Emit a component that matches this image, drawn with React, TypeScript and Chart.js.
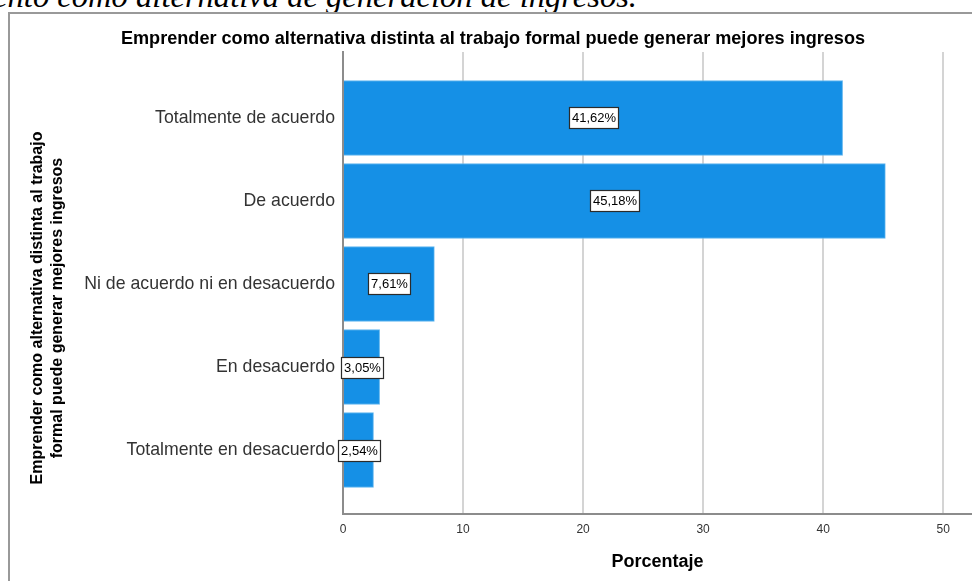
import React, { useEffect, useRef } from 'react';
import { Chart, registerables } from 'chart.js';

Chart.register(...registerables);

const categories = [
  'Totalmente de acuerdo',
  'De acuerdo',
  'Ni de acuerdo ni en desacuerdo',
  'En desacuerdo',
  'Totalmente en desacuerdo',
];
const percentages = [41.62, 45.18, 7.61, 3.05, 2.54];
const xTickValues = [0, 10, 20, 30, 40, 50];
const chartTitle = 'Emprender como alternativa distinta al trabajo formal puede generar mejores ingresos';
const yTitleLines = ['Emprender como alternativa distinta al trabajo', 'formal puede generar mejores ingresos'];
const xTitle = 'Porcentaje';
const captionText = 'ento como alternativa de generación de ingresos.';

const FONT = '"Liberation Sans", Arial, sans-serif';

const formatPct = (v: number) => v.toFixed(2).replace('.', ',') + '%';

const decorPlugin = {
  id: 'decor',
  afterDatasetsDraw(chart: any) {
    const ctx = chart.ctx as CanvasRenderingContext2D;
    const meta = chart.getDatasetMeta(0);
    ctx.save();
    ctx.font = `13px ${FONT}`;
    meta.data.forEach((bar: any, i: number) => {
      const { x, y, base } = bar.getProps(['x', 'y', 'base'], true);
      const cx = (x + base) / 2;
      const txt = formatPct(percentages[i]);
      const w = Math.round(ctx.measureText(txt).width + 5);
      const h = 21;
      const left = Math.round(cx - w / 2);
      const top = Math.round(y - h / 2);
      ctx.fillStyle = '#ffffff';
      ctx.fillRect(left, top, w, h);
      ctx.strokeStyle = '#2b2b2b';
      ctx.lineWidth = 1.2;
      ctx.strokeRect(left + 0.5, top + 0.5, w, h);
      ctx.fillStyle = '#000000';
      ctx.textAlign = 'center';
      ctx.textBaseline = 'middle';
      ctx.fillText(txt, left + w / 2 + 0.5, top + h / 2 + 1);
    });
    ctx.restore();
  },
  afterDraw(chart: any) {
    const ctx = chart.ctx as CanvasRenderingContext2D;
    ctx.save();
    ctx.fillStyle = '#000000';
    ctx.textAlign = 'center';
    ctx.textBaseline = 'middle';
    ctx.font = `bold 18.1px ${FONT}`;
    ctx.fillText(chartTitle, 493, 39);
    ctx.font = `bold 16px ${FONT}`;
    const xs = [38, 58];
    yTitleLines.forEach((line, i) => {
      ctx.save();
      ctx.translate(xs[i], 308);
      ctx.rotate(-Math.PI / 2);
      ctx.fillText(line, 0, 0);
      ctx.restore();
    });
    ctx.restore();
  },
};

function BarChart() {
  const ref = useRef<HTMLCanvasElement | null>(null);
  useEffect(() => {
    if (!ref.current) return;
    const chart = new Chart(ref.current, {
      type: 'bar',
      data: {
        datasets: [
          {
            data: percentages.map((v, i) => ({ x: v, y: i })) as any,
            backgroundColor: '#1590e6',
            borderColor: '#62b6ef',
            borderWidth: 1,
            barThickness: 75,
          },
        ],
      },
      options: {
        indexAxis: 'y',
        animation: false,
        responsive: false,
        maintainAspectRatio: false,
        layout: { padding: { top: 52, left: 0, right: 0, bottom: 0 } },
        plugins: {
          legend: { display: false },
          tooltip: { enabled: false },
          title: { display: false },
        },
        scales: {
          x: {
            type: 'linear',
            position: 'bottom',
            min: 0,
            max: 52.4,
            offset: false,
            afterBuildTicks: (s: any) => {
              s.ticks = xTickValues.map((v) => ({ value: v }));
            },
            afterFit: (s: any) => {
              s.height = 67;
            },
            grid: { color: '#d4d4d4', lineWidth: 2, drawTicks: false },
            border: { display: true, color: '#8c8c8c', width: 2 },
            ticks: {
              padding: 8,
              color: '#333333',
              font: { family: FONT, size: 12 },
              callback: (v: any) => String(v),
            },
            title: {
              display: true,
              text: xTitle,
              color: '#000000',
              font: { family: FONT, size: 18, weight: 'bold' },
              padding: { top: 0, bottom: 8 },
            },
          },
          y: {
            type: 'linear',
            min: -0.795,
            max: 4.771,
            reverse: true,
            offset: false,
            afterBuildTicks: (s: any) => {
              s.ticks = categories.map((_, i) => ({ value: i }));
            },
            afterFit: (s: any) => {
              s.width = 343;
            },
            grid: { display: false, drawTicks: false, offset: false },
            border: { display: true, color: '#8c8c8c', width: 2 },
            ticks: {
              padding: 8,
              color: '#333333',
              font: { family: FONT, size: 17.7 },
              callback: (v: any) => categories[v] ?? '',
            },
          },
        },
      } as any,
      plugins: [decorPlugin],
    });
    return () => chart.destroy();
  }, []);
  return (
    <canvas
      ref={ref}
      width={972}
      height={581}
      style={{ position: 'absolute', left: 0, top: 0, width: 972, height: 581, display: 'block' }}
    />
  );
}

export default function App() {
  return (
    <div
      style={{
        position: 'fixed',
        left: 0,
        top: 0,
        width: 972,
        height: 581,
        overflow: 'hidden',
        background: '#ffffff',
      }}
    >
      <div
        style={{
          position: 'absolute',
          right: 335,
          top: -20,
          whiteSpace: 'nowrap',
          fontFamily: '"Liberation Serif", "Times New Roman", serif',
          fontStyle: 'italic',
          fontSize: 32.6,
          lineHeight: '32px',
          color: '#000',
        }}
      >
        {captionText}
      </div>
      <div
        style={{
          position: 'absolute',
          left: 8,
          top: 12,
          right: -10,
          bottom: -10,
          borderLeft: '2px solid #999999',
          borderTop: '2px solid #999999',
        }}
      />
      <BarChart />
    </div>
  );
}
